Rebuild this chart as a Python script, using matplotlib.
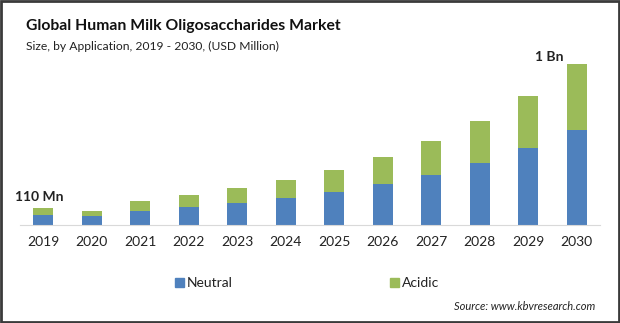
import matplotlib.pyplot as plt
import numpy as np
from matplotlib.patches import Rectangle

years = ["2019", "2020", "2021", "2022", "2023", "2024",
         "2025", "2026", "2027", "2028", "2029", "2030"]
neutral = [65, 58, 91, 117, 143, 176, 215, 267, 325, 403, 500, 618]
acidic = [45, 33, 65, 78, 98, 117, 143, 176, 221, 273, 338, 429]

blue = "#4F81BD"
green = "#9BBB59"
font = "Lato"

fig = plt.figure(figsize=(6.2, 3.23), dpi=100)
ax = fig.add_axes([20 / 620, 1 - 225 / 323, 580 / 620, 175 / 323])

x = np.arange(len(years))
ax.bar(x, neutral, width=0.41, color=blue, label="Neutral")
ax.bar(x, acidic, width=0.41, bottom=neutral, color=green, label="Acidic")

ax.set_xlim(-0.48, len(years) - 0.52)
ax.set_ylim(0, 1137)
for s in ["top", "right", "left"]:
    ax.spines[s].set_visible(False)
ax.spines["bottom"].set_color("#D9D9D9")
ax.set_yticks([])
ax.set_xticks(x)
ax.set_xticklabels(years, fontsize=10, family=font, color="#222222")
ax.tick_params(axis="x", length=0, pad=8)

# end labels
tot = np.array(neutral) + np.array(acidic)
ax.text(-0.58, tot[0] + 30, "110 Mn", ha="left", va="bottom",
        fontsize=10, fontweight="bold", family=font, color="#222222")
ax.text(11 - 0.57, tot[-1] + 5, "1 Bn", ha="center", va="bottom",
        fontsize=10, fontweight="bold", family=font, color="#222222")

fig.text(26 / 620, 1 - 26 / 323, "Global Human Milk Oligosaccharides Market",
         fontsize=11.3, fontweight="bold", family=font, va="center", color="#111111")
fig.text(26 / 620, 1 - 46 / 323, "Size, by Application, 2019 - 2030, (USD Million)",
         fontsize=8.7, family=font, va="center", color="#222222")

# legend
for lx, name, c in [(175, "Neutral", blue), (390, "Acidic", green)]:
    fig.patches.append(Rectangle((lx / 620, 1 - 287 / 323), 9 / 620, 9 / 323,
                                 transform=fig.transFigure, color=c))
    fig.text((lx + 12) / 620, 1 - 283 / 323, name, fontsize=10, family=font,
             va="center", color="#222222")

fig.text(595 / 620, 1 - 306 / 323, "Source: www.kbvresearch.com", fontsize=8,
         style="italic", family=font, ha="right", va="center", color="#222222")

# border
fig.patches.append(Rectangle((0.002, 0.003), 0.996, 0.994, transform=fig.transFigure,
                             fill=False, edgecolor="#3A3A3A", linewidth=2))

fig.savefig("out.png", dpi=100)
